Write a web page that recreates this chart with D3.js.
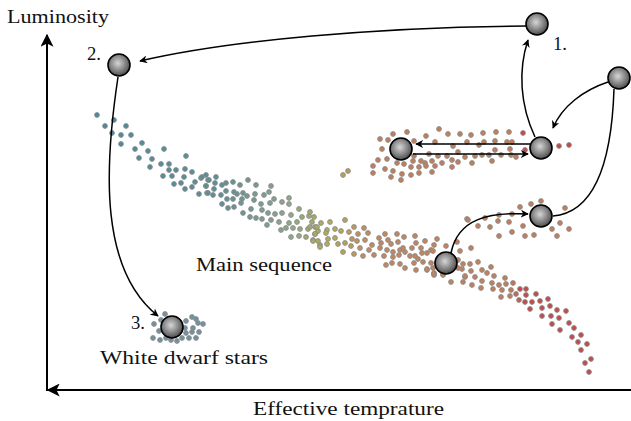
<!DOCTYPE html>
<html><head><meta charset="utf-8">
<script src="https://cdn.jsdelivr.net/npm/d3@7"></script>
<style>body{margin:0;background:#fff}svg{display:block}text{font-family:"Liberation Serif","Times New Roman",serif;fill:#111}</style>
</head><body><svg id="c" width="631" height="421"></svg>
<script>
// chart units (x: position along temperature axis, y: along luminosity axis, both)
const mainSequence = [
[97,115],[105,126],[114,120],[112,133],[126,126],[121,135],[131,135],[121,144],[142,143],[135,149],[148,151],[164,149],[139,158],[152,159],[186,156],[150,167],[161,164],[169,164],[163,176],[169,170],[176,170],[185,169],[192,172],[172,176],[184,177],[174,184],[181,183],[195,182],[201,178],[206,175],[208,180],[185,189],[192,187],[206,186],[199,194],[207,193],
[202,177],[209,180],[216,177],[206,186],[215,183],[222,185],[226,183],[233,182],[240,185],[248,180],[256,185],[271,186],[208,193],[214,189],[213,195],[221,195],[226,191],[234,192],[237,194],[243,193],[247,196],[255,194],[264,195],[269,192],[227,199],[233,199],[242,199],[254,200],[274,199],[289,198],[222,204],[228,208],[234,207],[241,203],[261,204],[270,203],[282,202],[289,204],[251,209],[262,210],[268,213],[275,214],[282,213],[291,215],[299,209],[243,213],[250,217],[256,218],[262,219],[271,220],[279,222],[289,223],[297,222],[302,217],[309,216],[310,212],[314,217],[267,225],[281,230],[286,228],[293,228],[300,229],[308,229],[315,227],[318,231],[291,237],[299,236],[306,237],[313,240],[318,241],[315,234],[320,245],
[312,222],[321,223],[330,222],[345,220],[310,227],[317,227],[327,230],[335,229],[341,231],[349,232],[354,227],[364,228],[315,234],[326,233],[358,234],[368,233],[313,241],[328,239],[335,238],[345,243],[352,239],[357,241],[365,240],[320,247],[327,244],[338,244],[351,246],[360,248],[372,245],[343,252],[354,254],[363,256],[374,255],[369,250],[379,238],[385,234],[381,243],[380,248],[388,240],[391,244],[397,234],[398,242],[404,237],[415,236],[387,250],[393,252],[400,250],[405,252],[384,256],[393,257],[399,255],[403,248],[412,248],[416,243],[425,241],[415,256],[410,256],[422,253],[421,248],[427,253],[431,250],[434,245],[437,239],[392,263],[400,264],[405,268],[386,265],[414,263],[418,259],[423,262],[416,270],[427,270],[433,268],[434,273],
[446,246],[460,251],[467,219],[458,268],[462,269],[465,277],[451,282],[463,282],[443,274],[434,275],[427,269],[437,264],[433,251],[431,263],[434,274],[443,275],[458,260],[463,264],[470,264],[478,262],[471,271],[482,270],[491,267],[465,276],[475,277],[487,273],[494,276],[472,285],[482,281],[492,283],[481,288],[493,289],[499,285],[505,278],[506,284],[513,283],[502,290],[511,290],[501,297],[510,296],[516,294],[520,289],[526,289],[519,300],[526,295],[536,294],[525,302],[532,302],[540,301],[548,299],[530,309],[542,308],[550,306],[557,310],[566,311],[542,316],[551,316],[559,318],[552,324],[569,323],[560,330],[574,328],[572,337],[581,335],[578,342],[587,344],[581,350],[591,359],[585,363],[589,372],
[343,175],[348,171]
];
const giantBranch = [
[380,139],[388,140],[393,134],[407,132],[426,136],[439,129],[448,134],[460,134],[471,135],[483,133],[496,132],[509,132],[523,133],[382,149],[378,160],[387,159],[373,166],[385,169],[393,171],[373,173],[391,177],[401,180],[402,174],[411,175],[419,173],[411,167],[404,164],[397,163],[413,161],[414,156],[421,161],[425,163],[429,154],[432,161],[435,166],[432,172],[426,166],[419,167],[414,141],[435,142],[438,156],[442,163],[447,156],[452,160],[452,167],[453,146],[458,152],[458,162],[467,142],[465,157],[472,163],[475,156],[479,145],[484,142],[482,155],[489,155],[492,161],[495,141],[495,150],[501,155],[507,142],[510,149],[512,142],[511,155],[516,157],[525,150],[559,146],[569,145]
];
const horizontalBranch = [
[468,220],[457,242],[471,248],[478,226],[485,218],[490,227],[499,215],[498,221],[509,222],[512,214],[520,207],[531,204],[541,201],[499,236],[512,232],[523,226],[525,236],[534,235],[537,224],[552,229],[560,223],[565,208],[569,229],[557,236]
];
const whiteDwarfs = [
[165,314],[161,320],[154,324],[159,331],[153,338],[160,340],[166,338],[171,340],[177,341],[182,338],[189,338],[196,338],[186,333],[192,332],[199,332],[185,328],[193,328],[198,323],[203,324],[186,321],[192,317],[196,319]
];
// star stages: [x, y, radius]
const stages = [[537,24,11],[119,65,11],[172,327,11],[401,149,11],[541,148,11],[619,78,11],[541,216,11],[446,263,11]];
// evolution tracks: cubic control points, arrow at end?
const tracks = [
 {p:[[526,26],[380,27],[230,40],[140,61]], arrow:true},
 {p:[[118,77],[104,170],[100,270],[158,316]], arrow:true},
 {p:[[535,137],[520,105],[518,70],[528,40]], arrow:true},
 {p:[[608,82],[584,90],[562,106],[553,128]], arrow:true},
 {p:[[553,216],[600,212],[612,150],[614,89]], arrow:false},
 {p:[[451,253],[458,218],[490,212],[528,214]], arrow:true},
 {p:[[530,144],[490,144],[460,144],[416,144]], arrow:true},
 {p:[[413,154],[450,154],[490,154],[528,154]], arrow:true}
];
const labels = [
 {t:"Luminosity", x:7, y:23, w:102},
 {t:"Effective temprature", x:253, y:415, w:191},
 {t:"Main sequence", x:196, y:271, w:136},
 {t:"White dwarf stars", x:100, y:364, w:168},
 {t:"1.", x:553, y:50, w:14},
 {t:"2.", x:87, y:60, w:14},
 {t:"3.", x:131, y:329, w:14}
];

const W=631,H=421;
const x = d3.scaleLinear().domain([0,631]).range([0,W]);
const y = d3.scaleLinear().domain([0,421]).range([0,H]);
const svg = d3.select("#c");
const defs = svg.append("defs");
const g = defs.append("radialGradient").attr("id","ball").attr("cx","45%").attr("cy","42%").attr("r","60%");
g.append("stop").attr("offset","0%").attr("stop-color","#d6d6d6");
g.append("stop").attr("offset","100%").attr("stop-color","#484848");
defs.append("marker").attr("id","ah").attr("viewBox","0 0 10 10").attr("refX",9).attr("refY",5)
 .attr("markerWidth",8).attr("markerHeight",8).attr("markerUnits","userSpaceOnUse").attr("orient","auto")
 .append("path").attr("d","M0,0 L10,5 L0,10 L3,5 z").attr("fill","#000");
defs.append("marker").attr("id","axh").attr("viewBox","0 0 10 10").attr("refX",9).attr("refY",5)
 .attr("markerWidth",13).attr("markerHeight",13).attr("markerUnits","userSpaceOnUse").attr("orient","auto")
 .append("path").attr("d","M0,0 L10,5 L0,10 L2.5,5 z").attr("fill","#000");

// axes
svg.append("line").attr("x1",x(47)).attr("y1",y(391)).attr("x2",x(47)).attr("y2",y(35))
 .attr("stroke","#000").attr("stroke-width",2).attr("marker-end","url(#axh)");
svg.append("line").attr("x1",x(631)).attr("y1",y(390)).attr("x2",x(48)).attr("y2",y(390))
 .attr("stroke","#000").attr("stroke-width",2).attr("marker-end","url(#axh)");

const col = d3.scaleLinear().domain([100,220,290,330,370,510,525])
 .range(["#4a8a9c","#5a8f98","#8fa88a","#b5ae4e","#c8875e","#c47d58","#c64848"]).clamp(true);
function dots(data, fill){
 svg.append("g").selectAll("circle").data(data).join("circle")
  .attr("cx",d=>x(d[0])).attr("cy",d=>y(d[1])).attr("r",2.4)
  .attr("fill",d=>fill?fill:(d[0]>=520&&d[1]>285?"#c64848":col(d[0])))
  .attr("stroke","#8a8a8a").attr("stroke-width",0.9);
}
dots(mainSequence);
svg.append("g").selectAll("circle").data(giantBranch).join("circle")
  .attr("cx",d=>x(d[0])).attr("cy",d=>y(d[1])).attr("r",2.4)
  .attr("fill",d=>d[0]>=520?"#c64848":"#c47d58").attr("stroke","#8a8a8a").attr("stroke-width",0.9);
dots(horizontalBranch,"#c47d58");
dots(whiteDwarfs,"#6f93a3");

// tracks
tracks.forEach(t=>{
 const p=d3.path(); const q=t.p.map(d=>[x(d[0]),y(d[1])]);
 p.moveTo(q[0][0],q[0][1]); p.bezierCurveTo(q[1][0],q[1][1],q[2][0],q[2][1],q[3][0],q[3][1]);
 svg.append("path").attr("d",p.toString()).attr("fill","none").attr("stroke","#000").attr("stroke-width",1.5)
  .attr("marker-end",t.arrow?"url(#ah)":null);
});

svg.append("g").selectAll("circle").data(stages).join("circle")
 .attr("cx",d=>x(d[0])).attr("cy",d=>y(d[1])).attr("r",d=>d[2])
 .attr("fill","url(#ball)").attr("stroke","#000").attr("stroke-width",1.6);

svg.append("g").selectAll("text").data(labels).join("text")
 .attr("x",d=>x(d.x)).attr("y",d=>y(d.y)).attr("font-size",19)
 .attr("textLength",d=>d.w).attr("lengthAdjust","spacingAndGlyphs").text(d=>d.t);
</script></body></html>
